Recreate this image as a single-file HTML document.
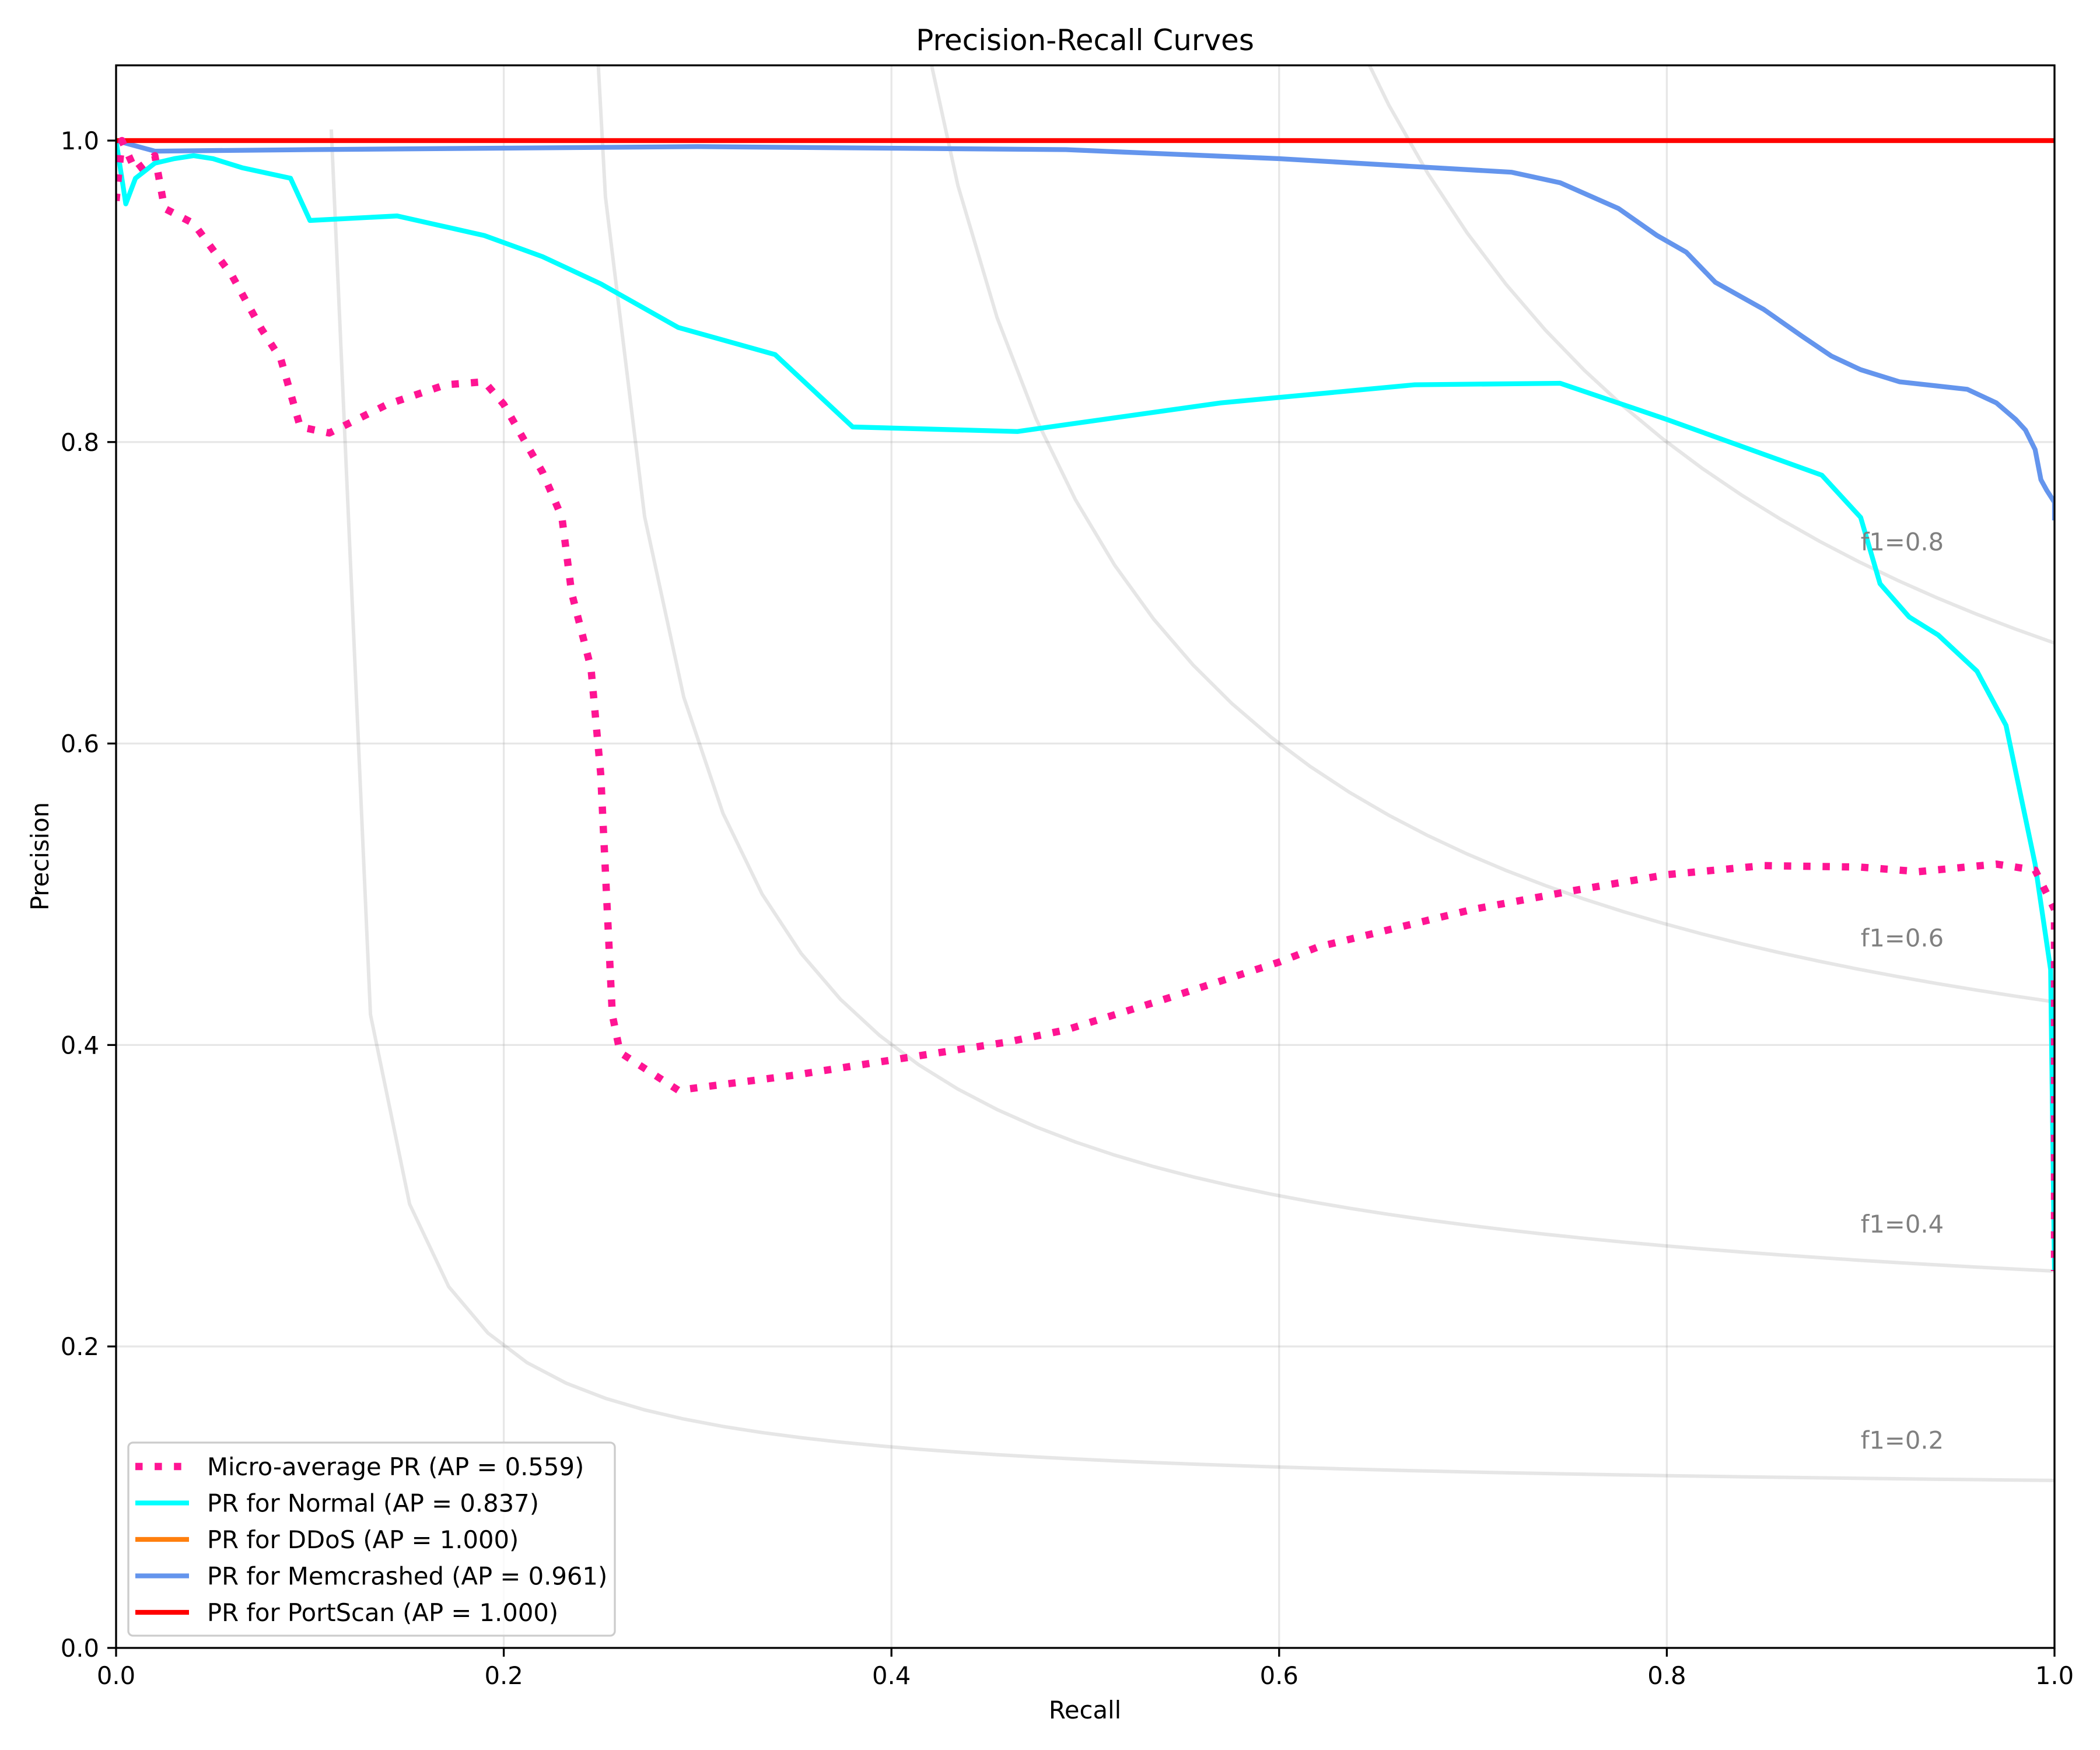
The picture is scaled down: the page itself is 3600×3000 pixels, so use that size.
<!DOCTYPE html>
<html><head><meta charset="utf-8"><style>
html,body{margin:0;padding:0;background:#fff;}
svg{display:block;font-family:"DejaVu Sans","Liberation Sans",sans-serif;}
</style></head><body>
<svg id="chart" width="3600" height="3000" viewBox="0 0 3600 3000" xmlns="http://www.w3.org/2000/svg">
<rect width="3600" height="3000" fill="#fff"/>
<defs><clipPath id="plotclip"><rect x="199" y="112" width="3323" height="2713"/></clipPath></defs>
<g id="grid"></g>
<g id="iso" clip-path="url(#plotclip)"></g>
<g id="series" clip-path="url(#plotclip)"></g>
<g id="axes"></g>
<g id="legend"></g>
</svg>
<script>
const xTicks = [0, 0.2, 0.4, 0.6, 0.8, 1.0];
const yTicks = [0, 0.2, 0.4, 0.6, 0.8, 1.0];
const xTickLabels = ["0.0", "0.2", "0.4", "0.6", "0.8", "1.0"];
const yTickLabels = ["0.0", "0.2", "0.4", "0.6", "0.8", "1.0"];
const f1Levels = [0.2, 0.4, 0.6, 0.8];

const microRecall = [0,0.003,0.01,0.02,0.025,0.04,0.06,0.075,0.085,0.095,0.11,0.14,0.17,0.19,0.2,0.22,0.23,0.235,0.245,0.25,0.253,0.256,0.26,0.29,0.35,0.4,0.46,0.49,0.54,0.6,0.62,0.7,0.75,0.8,0.85,0.9,0.93,0.97,0.99,1.0,1.0];
const microPrecision = [0.96,1.0,0.98,0.99,0.955,0.945,0.91,0.875,0.855,0.81,0.806,0.825,0.838,0.84,0.825,0.78,0.75,0.7,0.65,0.58,0.5,0.42,0.395,0.37,0.38,0.39,0.402,0.41,0.43,0.455,0.465,0.49,0.502,0.513,0.519,0.518,0.515,0.52,0.516,0.49,0.25];
const normalRecall = [0,0.005,0.01,0.02,0.03,0.04,0.05,0.065,0.09,0.1,0.145,0.19,0.22,0.25,0.29,0.34,0.38,0.465,0.57,0.67,0.745,0.8,0.88,0.9,0.91,0.925,0.94,0.96,0.975,0.99,0.998,1.0];
const normalPrecision = [1.0,0.958,0.975,0.985,0.988,0.99,0.988,0.982,0.975,0.947,0.95,0.937,0.923,0.905,0.876,0.858,0.81,0.807,0.826,0.838,0.839,0.815,0.778,0.75,0.706,0.684,0.672,0.648,0.612,0.52,0.45,0.25];
const ddosRecall = [0, 1];
const ddosPrecision = [1, 1];
const memRecall = [0,0.02,0.1,0.3,0.49,0.6,0.72,0.745,0.775,0.795,0.81,0.825,0.85,0.87,0.885,0.9,0.92,0.955,0.97,0.98,0.985,0.99,0.993,0.996,1.0,1.0];
const memPrecision = [1.0,0.993,0.994,0.996,0.994,0.988,0.979,0.972,0.955,0.937,0.926,0.906,0.888,0.87,0.857,0.848,0.84,0.835,0.826,0.815,0.808,0.795,0.775,0.768,0.76,0.748];
const portRecall = [0, 1];
const portPrecision = [1, 1];
const legendLabels = ["Micro-average PR (AP = 0.559)","PR for Normal (AP = 0.837)","PR for DDoS (AP = 1.000)","PR for Memcrashed (AP = 0.961)","PR for PortScan (AP = 1.000)"];

const NS = "http://www.w3.org/2000/svg";
const X0 = 199, X1 = 3522, Y0 = 2825, Y1 = 241;
function sx(v){ return X0 + v*(X1-X0); }
function sy(v){ return Y0 - v*(Y0-Y1); }
function mk(tag, attrs, parent){
  const e = document.createElementNS(NS, tag);
  for (const k in attrs) e.setAttribute(k, attrs[k]);
  parent.appendChild(e); return e;
}
const grid = document.getElementById('grid');
const axes = document.getElementById('axes');
const iso = document.getElementById('iso');
const series = document.getElementById('series');
const legend = document.getElementById('legend');

xTicks.forEach((t,i)=>{
  const g = mk('line',{x1:sx(t),x2:sx(t),y1:112,y2:2825,stroke:'#b0b0b0','stroke-opacity':0.3,'stroke-width':3.3},grid);
  
  
  const tk = mk('line',{x1:sx(t),x2:sx(t),y1:2825,y2:2840,stroke:'#000','stroke-width':3.3},axes);
  
  
  const tl = mk('text',{x:sx(t),y:2887,'font-size':41.7,'text-anchor':'middle'},axes);
  tl.textContent = xTickLabels[i];
  
  
});
yTicks.forEach((t,i)=>{
  const g = mk('line',{x1:199,x2:3522,y1:sy(t),y2:sy(t),stroke:'#b0b0b0','stroke-opacity':0.3,'stroke-width':3.3},grid);
  
  
  const tk = mk('line',{x1:184,x2:199,y1:sy(t),y2:sy(t),stroke:'#000','stroke-width':3.3},axes);
  
  
  const tl = mk('text',{x:170,y:sy(t)+15,'font-size':41.7,'text-anchor':'end'},axes);
  tl.textContent = yTickLabels[i];
  
  
});

f1Levels.forEach(f=>{
  const xs=[], ys=[];
  for(let k=0;k<50;k++){ const x=0.01+k*(0.99/49); const y=f*x/(2*x-f); if(y>=0){xs.push(x);ys.push(y);} }
  const pts = xs.map((x,i)=>sx(x)+','+sy(Math.min(ys[i],5))).join(' ');
  const p = mk('polyline',{points:pts,fill:'none',stroke:'#808080','stroke-opacity':0.2,'stroke-width':6},iso);
  
  
  const x45=0.01+45*(0.99/49); const y45=f*x45/(2*x45-f);
  const t = mk('text',{x:sx(0.9),y:sy(y45+0.02),'font-size':41.7,fill:'#808080'},axes);
  t.textContent = 'f1=' + f.toFixed(1);
  
  
});

function drawSeries(r,p,color,w,dash,name){
  const pts = r.map((x,i)=>sx(x)+','+sy(p[i])).join(' ');
  const attrs = {points:pts,fill:'none',stroke:color,'stroke-width':w,'stroke-linejoin':'round'};
  if(dash) attrs['stroke-dasharray']=dash;
  const e = mk('polyline',attrs,series);
  
  
}
drawSeries(normalRecall,normalPrecision,'#00ffff',8.3,null,'normal-pr-curve');
drawSeries(ddosRecall,ddosPrecision,'#ff7f0e',8.3,null,'ddos-pr-curve');
drawSeries(memRecall,memPrecision,'#6495ed',8.3,null,'memcrashed-pr-curve');
drawSeries(portRecall,portPrecision,'#ff0000',8.3,null,'portscan-pr-curve');
drawSeries(microRecall,microPrecision,'#ff1493',12.5,'12.5 20.6','micro-average-pr-curve');

const fr = mk('rect',{x:199,y:112,width:3323,height:2713,fill:'none',stroke:'#000','stroke-width':3.3},axes);


const title = mk('text',{x:1860,y:86,'font-size':50,'text-anchor':'middle'},axes);
title.textContent='Precision-Recall Curves';


const xl = mk('text',{x:1860,y:2946,'font-size':41.7,'text-anchor':'middle'},axes);
xl.textContent='Recall';


const yl = mk('text',{x:0,y:0,'font-size':41.7,'text-anchor':'middle',transform:'translate(83,1468) rotate(-90)'},axes);
yl.textContent='Precision';



const lb = mk('rect',{x:220,y:2473,width:834,height:331,rx:8,fill:'#fff','fill-opacity':0.8,stroke:'#cccccc','stroke-width':3.3},legend);


const lColors=['#ff1493','#00ffff','#ff7f0e','#6495ed','#ff0000'];
legendLabels.forEach((lab,i)=>{
  const cy = 2764 - (4-i)*62.5;
  const attrs = {x1:232,x2:324,y1:cy,y2:cy,stroke:lColors[i],'stroke-width':i===0?12.5:8.3};
  if(i===0) attrs['stroke-dasharray']='12.5 20.6';
  const l = mk('line',attrs,legend);
  
  
  const t = mk('text',{x:355,y:cy+15,'font-size':41.7},legend);
  t.textContent=lab;
  
  
});
</script>
</body></html>
